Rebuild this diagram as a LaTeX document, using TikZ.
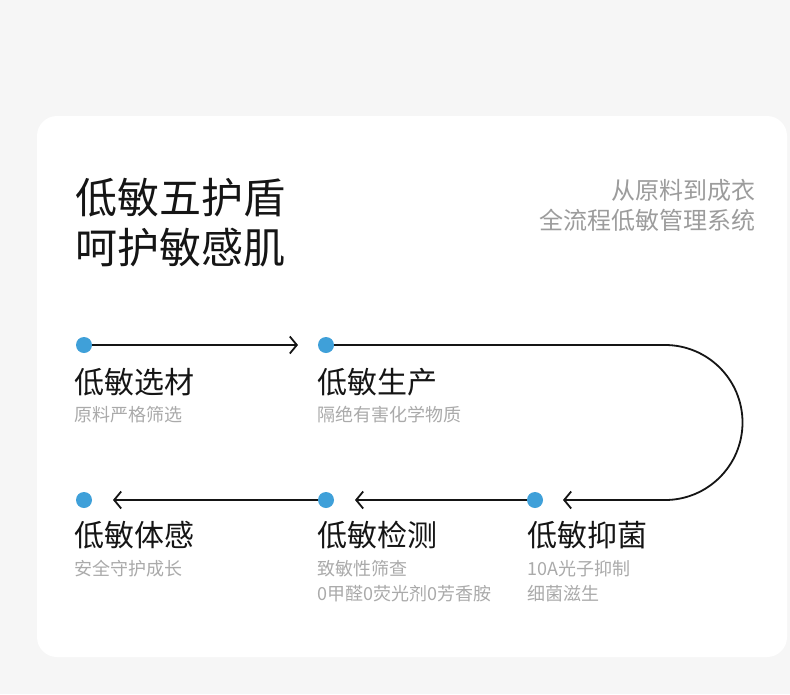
\documentclass[tikz,border=0pt]{standalone}
\usepackage{fontspec}
\newfontfamily\cjk{Noto Sans CJK SC}
\usetikzlibrary{arrows.meta}
\definecolor{bgc}{HTML}{F6F6F6}
\definecolor{dotc}{HTML}{3FA0D9}
\definecolor{subc}{HTML}{AAAAAA}
\definecolor{sidec}{HTML}{9C9C9C}
\definecolor{inkc}{HTML}{151515}
\tikzset{
  dotnode/.style={circle, fill=dotc, inner sep=0pt, minimum size=16pt},
  conn/.style={draw=inkc, line width=1.8pt},
  arr/.style={conn, -{Straight Barb[length=7pt,width=17pt]}},
  titletext/.style={anchor=base west, inner sep=0pt, font=\cjk\fontsize{42}{50}\selectfont, text=inkc},
  sidetext/.style={anchor=base east, inner sep=0pt, font=\cjk\fontsize{24}{30}\selectfont, text=sidec},
  labeltext/.style={anchor=base west, inner sep=0pt, font=\cjk\fontsize{30}{36}\selectfont, text=inkc},
  subtext/.style={anchor=base west, inner sep=0pt, font=\cjk\fontsize{18}{25}\selectfont, text=subc},
}
\begin{document}
\begin{tikzpicture}[x=1pt,y=-1pt]
\useasboundingbox (0,0) rectangle (790,694);
\fill[bgc] (0,0) rectangle (790,694);
\fill[white, rounded corners=20pt] (37,116) rectangle (787,657);

% titles
\node[titletext] (t1) at (75,213) {低敏五护盾};
\node[titletext] (t2) at (75,263) {呵护敏感肌};
\node[sidetext] (s1) at (756,199) {从原料到成衣};
\node[sidetext] (s2) at (756,229) {全流程低敏管理系统};

% dots
\node[dotnode] (d1) at (84,345) {};
\node[dotnode] (d2) at (326,345) {};
\node[dotnode] (d3) at (535,500) {};
\node[dotnode] (d4) at (326,500) {};
\node[dotnode] (d5) at (84,500) {};

% connector end points
\coordinate (e1) at (298,345);
\coordinate (c1) at (665,345);
\coordinate (e2) at (563,500);
\coordinate (e3) at (355,500);
\coordinate (e4) at (113,500);

\draw[arr] (d1) -- (e1);
\draw[arr] (d2) -- (c1) arc[start angle=-90, end angle=90, radius=77.5] -- (e2);
\draw[arr] (d3) -- (e3);
\draw[arr] (d4) -- (e4);

% labels
\node[labeltext] (l1) at (74,393) {低敏选材};
\node[subtext] (u1) at (74,421) {原料严格筛选};
\node[labeltext] (l2) at (317,393) {低敏生产};
\node[subtext] (u2) at (317,421) {隔绝有害化学物质};
\node[labeltext] (l5) at (74,546) {低敏体感};
\node[subtext] (u5) at (74,575) {安全守护成长};
\node[labeltext] (l4) at (317,546) {低敏检测};
\node[subtext] (u4a) at (317,575) {致敏性筛查};
\node[subtext] (u4b) at (317,600) {0甲醛0荧光剂0芳香胺};
\node[labeltext] (l3) at (527,546) {低敏抑菌};
\node[subtext] (u3a) at (527,575) {10A光子抑制};
\node[subtext] (u3b) at (527,600) {细菌滋生};
\end{tikzpicture}
\end{document}
